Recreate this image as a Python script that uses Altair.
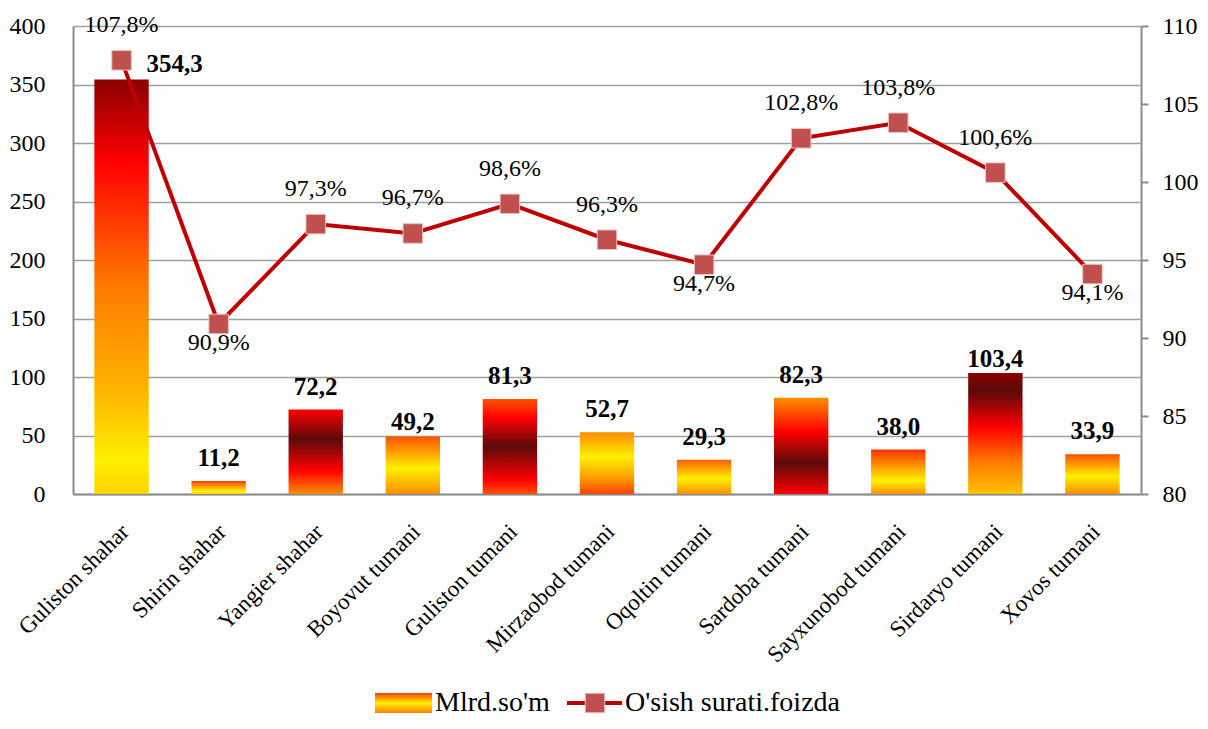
import altair as alt
import pandas as pd

# ---- data ----
categories = ["Guliston shahar", "Shirin shahar", "Yangier shahar", "Boyovut  tumani",
              "Guliston tumani", "Mirzaobod tumani", "Oqoltin tumani", "Sardoba tumani",
              "Sayxunobod tumani", "Sirdaryo tumani", "Xovos tumani"]
mlrd = [354.3, 11.2, 72.2, 49.2, 81.3, 52.7, 29.3, 82.3, 38.0, 103.4, 33.9]
growth = [107.8, 90.9, 97.3, 96.7, 98.6, 96.3, 94.7, 102.8, 103.8, 100.6, 94.1]
growth_label_pos = ["above", "below", "above", "above", "above", "above",
                    "below", "above", "above", "above", "below"]
bar_label_pos = ["side", "top", "top", "close", "top", "top", "top", "top", "top", "close", "top"]
left_ticks = [0, 50, 100, 150, 200, 250, 300, 350, 400]
right_ticks = [80, 85, 90, 95, 100, 105, 110]
series_names = ["Mlrd.so'm", "O'sish surati.foizda"]

# ---- styles ----
FONT = "Liberation Serif"
GRID = "#A0A0A0"
AXIS = "#8C8C8C"
LINE = "#C00000"
MARKER = "#C0504D"

bar_gradients = [
    [(0, "#8B0000"), (0.2, "#FF0000"), (0.5, "#FF7A00"), (0.75, "#FFB400"), (0.92, "#FFF000"), (1, "#FFD200")],
    [(0, "#FF3C00"), (0.4, "#FF9A00"), (0.8, "#FFF000"), (1, "#FFD000")],
    [(0, "#FF0000"), (0.35, "#5C0A0A"), (0.72, "#FF0000"), (1, "#FF8C00")],
    [(0, "#FF5000"), (0.55, "#FFF000"), (1, "#FF8C00")],
    [(0, "#FF5500"), (0.2, "#FF0000"), (0.5, "#5C0A0A"), (0.85, "#FF0000"), (1, "#FF5000")],
    [(0, "#FF8C00"), (0.4, "#FFF000"), (0.75, "#FF9800"), (1, "#FF4000")],
    [(0, "#FF6000"), (0.55, "#FFF000"), (1, "#FF9000")],
    [(0, "#FF9000"), (0.35, "#FF0000"), (0.68, "#5C0A0A"), (1, "#FF0000")],
    [(0, "#FF3000"), (0.7, "#FFF000"), (1, "#FF9000")],
    [(0, "#8B0000"), (0.15, "#5C0A0A"), (0.45, "#FF0000"), (0.75, "#FF8000"), (1, "#FFC000")],
    [(0, "#FF5000"), (0.55, "#FFF000"), (1, "#FF8C00")],
]
legend_gradient = [(0, "#FF4000"), (0.5, "#FFF000"), (1, "#FF8000")]


def grad(stops):
    return alt.Gradient(
        gradient="linear",
        stops=[alt.GradientStop(color=c, offset=o) for o, c in stops],
        x1=0, x2=0, y1=0, y2=1,
    )


def fmt(v, suffix=""):
    return f"{v:.1f}".replace(".", ",") + suffix


df = pd.DataFrame({
    "cat": categories,
    "mlrd": mlrd,
    "growth": growth,
    "mlrd_label": [fmt(v) for v in mlrd],
    "growth_label": [fmt(v, "%") for v in growth],
    "gpos": growth_label_pos,
    "bpos": bar_label_pos,
})

x_enc = alt.X(
    "cat:N", sort=categories,
    scale=alt.Scale(domain=categories, paddingInner=0.44, paddingOuter=0.22),
    axis=alt.Axis(title=None, labelAngle=-45, labelAlign="right", labelBaseline="top",
                  labelPadding=26, labelOffset=-4, ticks=False, domainColor=AXIS, domainWidth=2,
                  labelFont=FONT, labelFontSize=23, labelColor="black", labelLimit=0),
)
y_left = alt.Y(
    "mlrd:Q", scale=alt.Scale(domain=[0, 400], nice=False, zero=True),
    axis=alt.Axis(title=None, orient="left", values=left_ticks, grid=True, gridColor=GRID,
                  gridWidth=1.5, domainColor=AXIS, domainWidth=2, ticks=False, tickSize=0,
                  labelPadding=28, labelFont=FONT, labelFontSize=24, labelColor="black"),
)
y_right = alt.Y(
    "growth:Q", scale=alt.Scale(domain=[80, 110], nice=False, zero=False),
    axis=alt.Axis(title=None, orient="right", values=right_ticks, grid=False,
                  domainColor=AXIS, domainWidth=2, ticks=True, tickSize=7, tickColor=AXIS,
                  tickWidth=2, labelPadding=14, labelFont=FONT, labelFontSize=24,
                  labelColor="black"),
)

base = alt.Chart(df)

bar_layers = []
for cat, stops in zip(categories, bar_gradients):
    bar_layers.append(
        base.transform_filter(alt.datum.cat == cat)
        .mark_bar(color=grad(stops))
        .encode(x=x_enc, y=y_left)
    )

bar_text_top = base.transform_filter(alt.datum.bpos == "top").mark_text(
    font=FONT, fontSize=25, fontWeight="bold", color="black", baseline="alphabetic", dy=-15
).encode(x=x_enc, y=y_left, text="mlrd_label:N")

bar_text_close = base.transform_filter(alt.datum.bpos == "close").mark_text(
    font=FONT, fontSize=25, fontWeight="bold", color="black", baseline="alphabetic", dy=-6
).encode(x=x_enc, y=y_left, text="mlrd_label:N")

bar_text_side = base.transform_filter(alt.datum.bpos == "side").mark_text(
    font=FONT, fontSize=25, fontWeight="bold", color="black", baseline="alphabetic",
    dx=53, dy=-7
).encode(x=x_enc, y=y_left, text="mlrd_label:N")

bars_group = alt.layer(*bar_layers, bar_text_top, bar_text_close, bar_text_side)

line = base.mark_line(color=LINE, strokeWidth=4).encode(x=x_enc, y=y_right)
points = base.mark_point(shape="square", filled=True, size=380, color=MARKER,
                         stroke="#E8C0BF", strokeWidth=1, opacity=1).encode(x=x_enc, y=y_right)
pct_above = base.transform_filter(alt.datum.gpos == "above").mark_text(
    font=FONT, fontSize=24, color="black", baseline="middle", dy=-35
).encode(x=x_enc, y=y_right, text="growth_label:N")
pct_below = base.transform_filter(alt.datum.gpos == "below").mark_text(
    font=FONT, fontSize=24, color="black", baseline="middle", dy=19
).encode(x=x_enc, y=y_right, text="growth_label:N")

line_group = alt.layer(line, points, pct_above, pct_below)

# ---- legend (drawn manually below the plot) ----
leg = alt.Chart(pd.DataFrame({"name": series_names}))
LEG_Y = 677
leg_swatch = leg.transform_filter(alt.datum.name == series_names[0]).mark_rect(
    color=grad(legend_gradient)
).encode(x=alt.value(302), x2=alt.value(359), y=alt.value(LEG_Y - 10), y2=alt.value(LEG_Y + 10))
leg_text1 = leg.transform_filter(alt.datum.name == series_names[0]).mark_text(
    font=FONT, fontSize=28, color="black", align="left", baseline="middle"
).encode(x=alt.value(362), y=alt.value(LEG_Y), text="name:N")
leg_line = leg.transform_filter(alt.datum.name == series_names[1]).mark_rule(
    color=LINE, strokeWidth=4
).encode(x=alt.value(494), x2=alt.value(549), y=alt.value(LEG_Y))
leg_pt = leg.transform_filter(alt.datum.name == series_names[1]).mark_point(
    shape="square", filled=True, size=380, color=MARKER, stroke="#E8C0BF", strokeWidth=1, opacity=1
).encode(x=alt.value(522), y=alt.value(LEG_Y))
leg_text2 = leg.transform_filter(alt.datum.name == series_names[1]).mark_text(
    font=FONT, fontSize=28, color="black", align="left", baseline="middle"
).encode(x=alt.value(552), y=alt.value(LEG_Y), text="name:N")

legend_group = alt.layer(leg_swatch, leg_text1, leg_line, leg_pt, leg_text2)

chart = alt.layer(bars_group, line_group, legend_group).resolve_scale(y="independent").properties(
    width=1068, height=468,
    autosize=alt.AutoSizeParams(type="none"),
    padding={"left": 65, "top": 18, "right": 58, "bottom": 222},
    background="white",
).configure_view(stroke=None)

chart.save("out.html", embed_options={"renderer": "svg", "actions": False})
